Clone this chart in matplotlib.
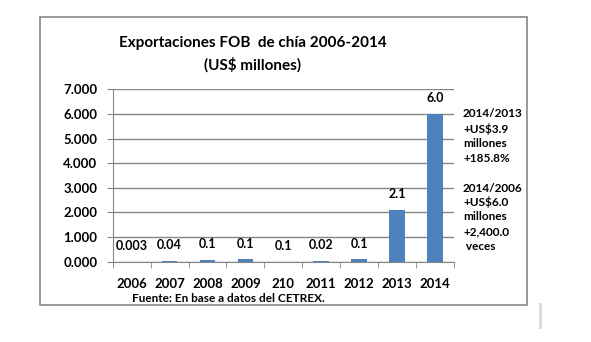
import matplotlib
matplotlib.use("Agg")
import matplotlib.pyplot as plt
from matplotlib.patches import Rectangle
from matplotlib.lines import Line2D

plt.rcParams['font.family'] = ['Lato', 'DejaVu Sans']

# datos ------------------------------------------------
years   = ['2006', '2007', '2008', '2009', '210', '2011', '2012', '2013', '2014']
values  = [0.003, 0.04, 0.07, 0.1, 0.005, 0.02, 0.1, 2.1, 6.0]
labels  = ['0.003', '0.04', '0.1', '0.1', '0.1', '0.02', '0.1', '2.1', '6.0']
yticks  = [0, 1, 2, 3, 4, 5, 6, 7]
note1   = ['2014/2013', '+US$3.9', 'millones', '+185.8%']
note2   = ['2014/2006', '+US$6.0', 'millones', '+2,400.0', ' veces']

W, H = 591, 342
fig = plt.figure(figsize=(W / 100, H / 100), dpi=100)

# marco del grafico
fig.add_artist(Rectangle((40 / W, 1 - 305 / H), 487 / W, 288 / H, transform=fig.transFigure,
                         fill=False, edgecolor='#868686', linewidth=1.2))
fig.add_artist(Line2D([540 / W, 540 / W], [1 - 304 / H, 1 - 327 / H], transform=fig.transFigure,
                      color='#d9d9d9', linewidth=2))

ax = fig.add_axes([112.7 / W, 1 - 261.7 / H, (454 - 112.7) / W, (261.7 - 89.3) / H])
x = range(len(years))
ax.bar(x, values, width=0.41, color='#4F81BD', zorder=3)
for i, (v, s) in enumerate(zip(values, labels)):
    ax.annotate(s, (i, v), xytext=(0, 7), textcoords='offset points', ha='center', va='bottom',
                fontsize=9, fontweight='bold')

ax.set_xlim(-0.5, len(years) - 0.5)
ax.set_ylim(0, 7)
ax.set_yticks(yticks)
ax.set_yticklabels(['%d.000' % t for t in yticks], fontsize=9.5, fontweight='bold')
ax.yaxis.grid(True, color='#868686', linewidth=1, zorder=0)
ax.set_xticks([i for i in x])
ax.set_xticklabels(years, fontsize=9.5, fontweight='bold')
ax.set_xticks([i - 0.5 for i in range(len(years) + 1)], minor=True)
ax.tick_params(axis='x', which='major', length=0, pad=12)
ax.tick_params(axis='x', which='minor', length=4, color='#868686')
ax.tick_params(axis='y', length=4, color='#868686', pad=7)
for side in ['top', 'right']:
    ax.spines[side].set_visible(False)
for side in ['left', 'bottom']:
    ax.spines[side].set_color('#868686')

fig.text(253 / W, 1 - 43 / H, 'Exportaciones FOB  de chía 2006-2014', ha='center', va='center',
         fontsize=11, fontweight='bold')
fig.text(253 / W, 1 - 65 / H, '(US$ millones)', ha='center', va='center',
         fontsize=11, fontweight='bold')
fig.text(228 / W, 1 - 299 / H, 'Fuente: En base a datos del CETREX.', ha='center', va='center',
         fontsize=8.5, fontweight='bold')

for k, s in enumerate(note1):
    fig.text(463 / W, 1 - (114 + 14.7 * k) / H, s, ha='left', va='center', fontsize=8.5, fontweight='bold')
for k, s in enumerate(note2):
    fig.text(463 / W, 1 - (188 + 14.5 * k) / H, s, ha='left', va='center', fontsize=8.5, fontweight='bold')

fig.savefig('out.png', dpi=100)
